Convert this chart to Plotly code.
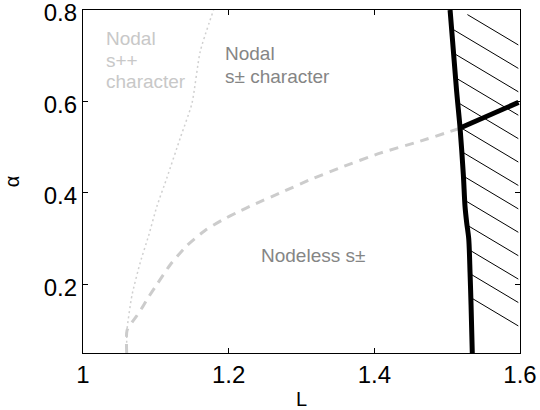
import numpy as np
import plotly.graph_objects as go

# ---- data ----
boundary_L = [1.504, 1.513, 1.5177, 1.5222, 1.5245, 1.5268, 1.5296, 1.5314, 1.5328, 1.5345]
boundary_alpha = [0.80, 0.622, 0.542, 0.440, 0.371, 0.335, 0.300, 0.226, 0.154, 0.05]

branch_L = [1.5177, 1.598]
branch_alpha = [0.542, 0.598]

dashed_L = [1.060, 1.0604, 1.0672, 1.0741, 1.0823, 1.0878, 1.1015, 1.1198, 1.1427,
            1.1676, 1.1905, 1.2111, 1.2337, 1.2707, 1.3119, 1.3530, 1.4079, 1.4628, 1.5170]
dashed_alpha = [0.05, 0.099, 0.117, 0.132, 0.152, 0.167, 0.200, 0.243, 0.285,
                0.318, 0.340, 0.357, 0.374, 0.400, 0.429, 0.455, 0.487, 0.513, 0.541]

dotted_L = [1.060, 1.0604, 1.0672, 1.0786, 1.090, 1.1015, 1.1152, 1.1335, 1.1496, 1.1609, 1.1792]
dotted_alpha = [0.05, 0.10, 0.176, 0.248, 0.306, 0.371, 0.433, 0.520, 0.596, 0.709, 0.80]

x_ticks = [1.0, 1.2, 1.4, 1.6]
x_ticktext = ["1", "1.2", "1.4", "1.6"]
y_ticks = [0.2, 0.4, 0.6, 0.8]
y_ticktext = ["0.2", "0.4", "0.6", "0.8"]

# ---- hatch (decoration of the region right of the boundary) ----
hatch_slope = 0.95
hatch_step = 0.0512
hatch_right = 1.5977
hatch_top = 0.79
b_alpha_sorted = np.array(boundary_alpha[::-1])
b_L_sorted = np.array(boundary_L[::-1])
hx, hy = [], []
c = 0.107
while c < 0.73:
    xs = np.linspace(1.45, hatch_right, 3000)
    ys = c + hatch_slope * (1.6 - xs)
    mask = (xs >= np.interp(ys, b_alpha_sorted, b_L_sorted)) & (ys <= hatch_top) & (ys >= 0.05)
    if mask.any():
        idx = np.where(mask)[0]
        hx += [xs[idx[0]], xs[idx[-1]], None]
        hy += [ys[idx[0]], ys[idx[-1]], None]
    c += hatch_step

fig = go.Figure()
fig.add_trace(go.Scatter(x=hx, y=hy, mode="lines", line=dict(color="black", width=1),
                         hoverinfo="skip", showlegend=False))
fig.add_trace(go.Scatter(x=dotted_L, y=dotted_alpha, mode="lines",
                         line=dict(color="#d0d0d0", width=1.5, dash="2px,3px", shape="spline", smoothing=0.6),
                         showlegend=False))
fig.add_trace(go.Scatter(x=dashed_L, y=dashed_alpha, mode="lines",
                         line=dict(color="#cccccc", width=3, dash="9px,7px", shape="spline", smoothing=0.6),
                         showlegend=False))
fig.add_trace(go.Scatter(x=boundary_L, y=boundary_alpha, mode="lines",
                         line=dict(color="black", width=5, shape="spline", smoothing=0.8), showlegend=False))
fig.add_trace(go.Scatter(x=branch_L, y=branch_alpha, mode="lines",
                         line=dict(color="black", width=5), showlegend=False))

font_name = "Liberation Sans, Arial, sans-serif"
light = "#c8c8c8"
mid = "#858585"
labels = [
    ("Nodal", 1.0283, 0.7378, light),
    ("s++", 1.0283, 0.6906, light),
    ("character", 1.0283, 0.6433, light),
    ("Nodal", 1.1921, 0.7051, mid),
    ("s\u00b1 character", 1.1921, 0.6542, mid),
    ("Nodeless s\u00b1", 1.2423, 0.2641, mid),
]
for t, x, y, col in labels:
    fig.add_annotation(x=x, y=y, xref="x", yref="y", text=t, showarrow=False,
                       xanchor="left", yanchor="middle",
                       font=dict(family=font_name, size=19, color=col))

axis_common = dict(showline=True, linecolor="black", linewidth=1.3, mirror="ticks",
                   ticks="inside", ticklen=5, tickwidth=1, tickcolor="black",
                   showgrid=False, zeroline=False, automargin=False,
                   ticklabeloverflow="allow",
                   tickfont=dict(family=font_name, size=24, color="black"))
fig.update_xaxes(range=[1.0, 1.6], tickvals=x_ticks, ticktext=x_ticktext,
                 title=dict(text="L", font=dict(family=font_name, size=20, color="black"), standoff=6),
                 **axis_common)
fig.update_yaxes(range=[0.05, 0.8], tickvals=y_ticks, ticktext=y_ticktext, ticklabelshift=3,
                 title=dict(text="\u03b1", font=dict(family=font_name, size=20, color="black"), standoff=18),
                 **axis_common)
fig.update_layout(width=540, height=410, margin=dict(l=83, r=20, t=10, b=57),
                  plot_bgcolor="white", paper_bgcolor="white", showlegend=False)
fig.write_html("out.html")
